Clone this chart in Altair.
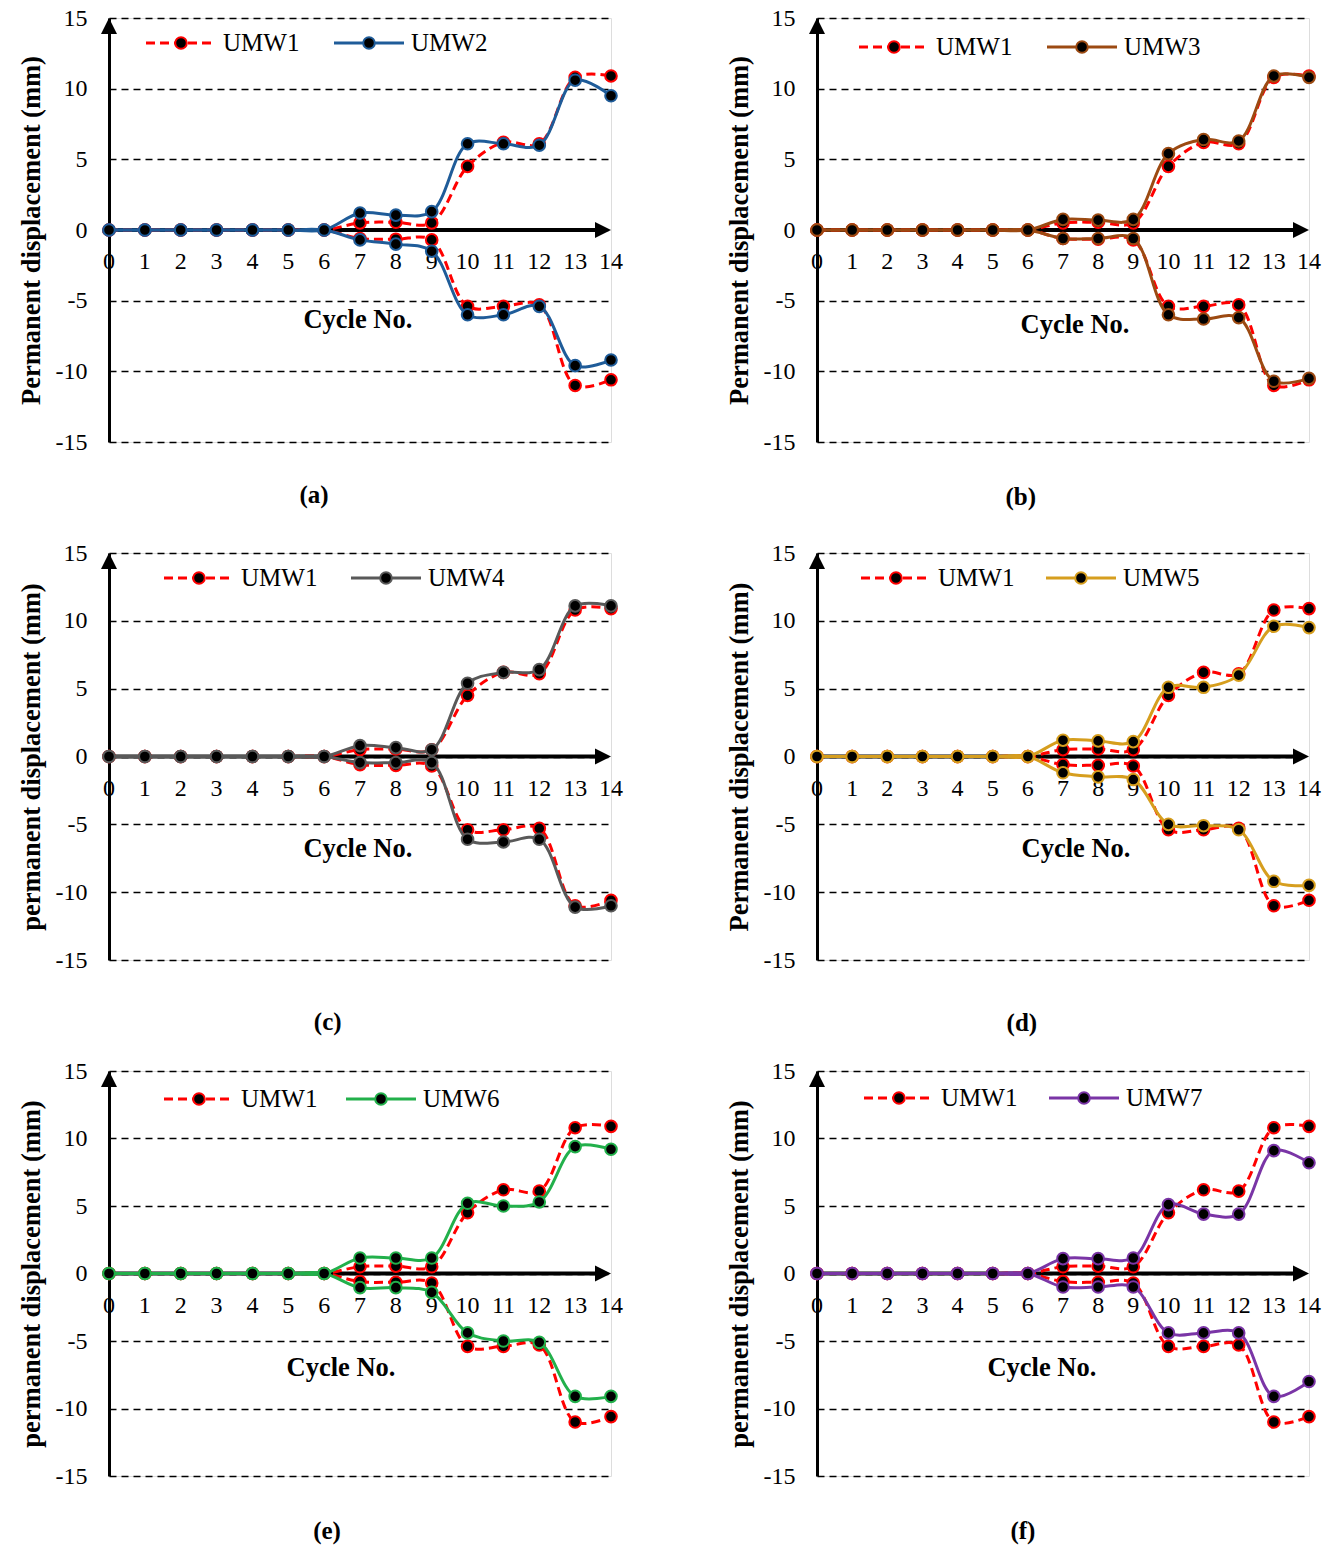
import altair as alt
import pandas as pd

FONT = "Liberation Serif"

cycles = [0, 1, 2, 3, 4, 5, 6, 7, 8, 9, 10, 11, 12, 13, 14]

umw1_pos = [0, 0, 0, 0, 0, 0, 0, 0.5, 0.55, 0.5, 4.5, 6.2, 6.1, 10.8, 10.9]
umw1_neg = [0, 0, 0, 0, 0, 0, 0, -0.6, -0.65, -0.7, -5.4, -5.4, -5.3, -11.0, -10.6]

umw2_pos = [0, 0, 0, 0, 0, 0, 0, 1.2, 1.05, 1.3, 6.1, 6.1, 6.0, 10.6, 9.5]
umw2_neg = [0, 0, 0, 0, 0, 0, 0, -0.7, -1.0, -1.5, -6.0, -6.0, -5.4, -9.6, -9.2]

umw3_pos = [0, 0, 0, 0, 0, 0, 0, 0.75, 0.7, 0.75, 5.4, 6.4, 6.3, 10.9, 10.8]
umw3_neg = [0, 0, 0, 0, 0, 0, 0, -0.6, -0.6, -0.6, -6.0, -6.3, -6.2, -10.7, -10.5]

umw4_pos = [0, 0, 0, 0, 0, 0, 0, 0.8, 0.65, 0.5, 5.4, 6.2, 6.4, 11.1, 11.1]
umw4_neg = [0, 0, 0, 0, 0, 0, 0, -0.45, -0.45, -0.45, -6.1, -6.3, -6.1, -11.1, -11.0]

umw5_pos = [0, 0, 0, 0, 0, 0, 0, 1.2, 1.15, 1.1, 5.1, 5.1, 6.0, 9.6, 9.5]
umw5_neg = [0, 0, 0, 0, 0, 0, 0, -1.2, -1.5, -1.7, -5.0, -5.1, -5.4, -9.2, -9.5]

umw6_pos = [0, 0, 0, 0, 0, 0, 0, 1.15, 1.15, 1.15, 5.2, 5.0, 5.3, 9.4, 9.2]
umw6_neg = [0, 0, 0, 0, 0, 0, 0, -1.05, -1.05, -1.4, -4.4, -5.0, -5.1, -9.1, -9.1]

umw7_pos = [0, 0, 0, 0, 0, 0, 0, 1.1, 1.1, 1.15, 5.1, 4.4, 4.4, 9.1, 8.2]
umw7_neg = [0, 0, 0, 0, 0, 0, 0, -1.0, -1.0, -1.0, -4.4, -4.4, -4.4, -9.1, -8.0]

RED = "#FF0000"

panels_cfg = [
    dict(name="UMW2", pos=umw2_pos, neg=umw2_neg, color="#1F5C99",
         title="Permanent displacement (mm)", cap="(a)", W=502, H=424,
         leg=(37, 25, 225), lab=(6.94, -6.4), capx=5.72, capdy=53),
    dict(name="UMW3", pos=umw3_pos, neg=umw3_neg, color="#9C4A12",
         title="Permanent displacement (mm)", cap="(b)", W=492, H=424,
         leg=(42, 29, 230), lab=(7.34, -6.7), capx=5.8, capdy=55),
    dict(name="UMW4", pos=umw4_pos, neg=umw4_neg, color="#595959",
         title="permanent displacement (mm)", cap="(c)", W=502, H=407,
         leg=(55, 25, 242), lab=(6.94, -6.8), capx=6.1, capdy=62),
    dict(name="UMW5", pos=umw5_pos, neg=umw5_neg, color="#D69E1E",
         title="Permanent displacement (mm)", cap="(d)", W=492, H=407,
         leg=(44, 25, 229), lab=(7.37, -6.85), capx=5.83, capdy=63),
    dict(name="UMW6", pos=umw6_pos, neg=umw6_neg, color="#22B04B",
         title="permanent displacement (mm)", cap="(e)", W=502, H=405,
         leg=(55, 28, 237), lab=(6.47, -7.0), capx=6.08, capdy=55),
    dict(name="UMW7", pos=umw7_pos, neg=umw7_neg, color="#7A35A6",
         title="permanent displacement (mm)", cap="(f)", W=492, H=405,
         leg=(47, 27, 232), lab=(6.4, -7.0), capx=5.86, capdy=55),
]

UP = "M0,0L-1,2L1,2Z"
RIGHT = "M0,0L-2,-1L-2,1Z"


def series_df(pos, neg):
    rows = []
    for c, v in zip(cycles, pos):
        rows.append({"cycle": c, "value": v, "branch": "pos"})
    for c, v in zip(cycles, neg):
        rows.append({"cycle": c, "value": v, "branch": "neg"})
    return pd.DataFrame(rows)


def make_panel(cfg):
    W, H = cfg["W"], cfg["H"]
    xs = alt.Scale(domain=[0, 14], nice=False, zero=False)
    ys = alt.Scale(domain=[-15, 15], nice=False)
    X = alt.X("cycle:Q", scale=xs, axis=None)
    Y = alt.Y("value:Q", scale=ys)
    y_axis = alt.Y(
        "value:Q", scale=ys,
        axis=alt.Axis(
            values=[-15, -10, -5, 0, 5, 10, 15], title=cfg["title"],
            labelExpr="'' + datum.value",
            grid=True, gridColor="black", gridDash=[7, 5], gridWidth=1.5, gridOpacity=1,
            domainColor="black", domainWidth=3, ticks=False, labelPadding=22,
            labelFont=FONT, labelFontSize=24, labelColor="black",
            titleFont=FONT, titleFontSize=26.5, titleFontWeight="bold", titleColor="black",
            titleX=-78, titleY=H / 2, titleAngle=-90, titleBaseline="middle", titleAlign="center",
        ),
    )

    d1 = series_df(umw1_pos, umw1_neg)
    d2 = series_df(cfg["pos"], cfg["neg"])
    color = cfg["color"]

    base = alt.Chart(d1).mark_line(opacity=0).encode(x=X, y=y_axis)

    axis_line = alt.Chart(pd.DataFrame({"cycle": [0], "cycle2": [13.7], "value": [0]})).mark_rule(
        color="black", strokeWidth=4).encode(x=X, x2="cycle2:Q", y=Y)
    up_arrow = alt.Chart(pd.DataFrame({"cycle": [0], "value": [15]})).mark_point(
        shape=UP, size=256, filled=True, color="black", opacity=1, strokeWidth=0).encode(x=X, y=Y)
    right_arrow = alt.Chart(pd.DataFrame({"cycle": [14], "value": [0]})).mark_point(
        shape=RIGHT, size=256, filled=True, color="black", opacity=1, strokeWidth=0).encode(x=X, y=Y)

    xlabels = alt.Chart(pd.DataFrame({"cycle": cycles, "value": [0] * len(cycles),
                                      "label": [str(c) for c in cycles]})).mark_text(
        dy=32, font=FONT, fontSize=24, color="black", baseline="middle").encode(
        x=X, y=Y, text="label:N")

    line1 = alt.Chart(d1).mark_line(color=RED, strokeWidth=3, strokeDash=[9, 5],
                                     interpolate="catmull-rom").encode(x=X, y=Y, detail="branch:N")
    pts1 = alt.Chart(d1).mark_point(filled=False, fill="black", fillOpacity=1, stroke=RED,
                                     strokeWidth=2, size=135, opacity=1).encode(x=X, y=Y)
    line2 = alt.Chart(d2).mark_line(color=color, strokeWidth=3,
                                     interpolate="catmull-rom").encode(x=X, y=Y, detail="branch:N")
    pts2 = alt.Chart(d2).mark_point(filled=False, fill="black", fillOpacity=1, stroke=color,
                                     strokeWidth=2, size=135, opacity=1).encode(x=X, y=Y)

    lab = alt.Chart(pd.DataFrame({"cycle": [cfg["lab"][0]], "value": [cfg["lab"][1]],
                                  "t": ["Cycle No."]})).mark_text(
        font=FONT, fontSize=26.5, fontWeight="bold", color="black", baseline="middle").encode(
        x=X, y=Y, text="t:N")

    cap = alt.Chart(pd.DataFrame({"cycle": [cfg["capx"]], "t": [cfg["cap"]]})).mark_text(
        font=FONT, fontSize=25, fontWeight="bold", color="black", baseline="middle").encode(
        x=X, y=alt.value(H + cfg["capdy"]), text="t:N")

    lx1, ly, lx2 = cfg["leg"]
    one = pd.DataFrame({"k": [0]})
    leg_layers = []
    for lx, col, nm, dash in [(lx1, RED, "UMW1", True), (lx2, color, cfg["name"], False)]:
        kw = dict(color=col, strokeWidth=3)
        if dash:
            kw["strokeDash"] = [9, 5]
        leg_layers.append(alt.Chart(one).mark_rule(**kw).encode(
            x=alt.value(lx), x2=alt.value(lx + 70), y=alt.value(ly)))
        leg_layers.append(alt.Chart(one).mark_point(filled=False, fill="black", fillOpacity=1,
                                                    stroke=col, strokeWidth=2, size=135,
                                                    opacity=1).encode(
            x=alt.value(lx + 35), y=alt.value(ly)))
        leg_layers.append(alt.Chart(pd.DataFrame({"t": [nm]})).mark_text(
            align="left", baseline="middle", font=FONT, fontSize=25, color="black").encode(
            x=alt.value(lx + 77), y=alt.value(ly), text="t:N"))

    return alt.layer(base, axis_line, up_arrow, right_arrow, xlabels, line1, pts1, line2, pts2,
                     lab, cap, *leg_layers).properties(width=W, height=H)


panels = [make_panel(c) for c in panels_cfg]

chart = alt.concat(*panels, columns=2, spacing={"row": 111, "column": 206}, bounds="flush").properties(
    padding={"left": 17, "top": 5, "right": 5, "bottom": 5}
).configure_view(stroke=None).configure(background="white")

chart.save("out.html", embed_options={"renderer": "svg", "actions": False})
